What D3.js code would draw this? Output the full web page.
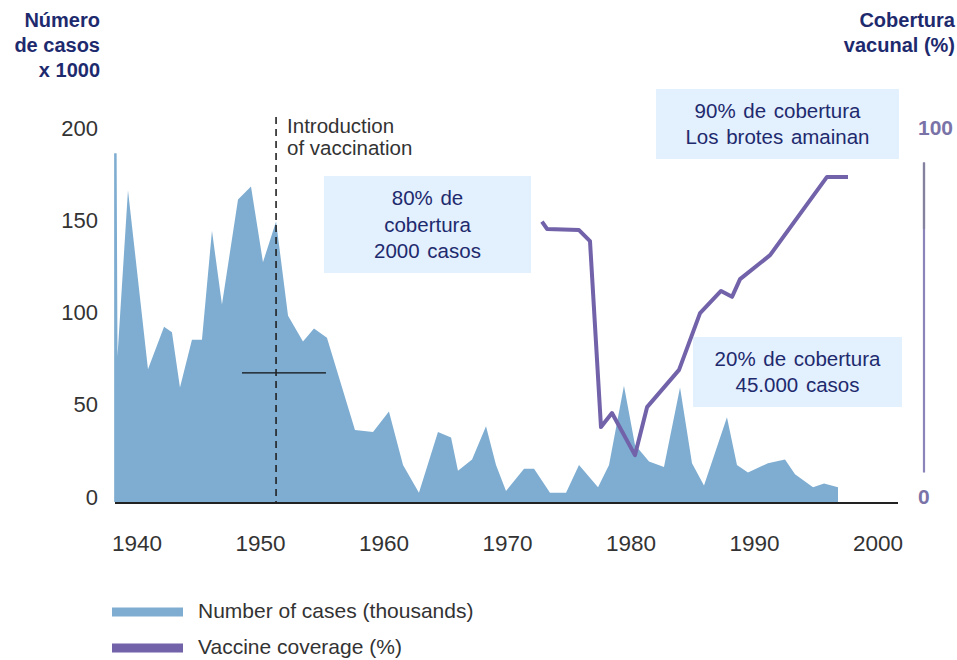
<!DOCTYPE html>
<html>
<head>
<meta charset="utf-8">
<script src="https://cdnjs.cloudflare.com/ajax/libs/d3/7.8.5/d3.min.js"></script>
<style>
  body { margin: 0; background: #fff; }
  svg { display: block; font-family: "Liberation Sans", Arial, sans-serif; }
</style>
</head>
<body>
<svg id="chart" width="957" height="660"></svg>
<script>
// ************************************************************************************************** //
// Data

var caseYears = [1938.15, 1938.35, 1938.42, 1939.27, 1940.89, 1942.19, 1942.83, 1943.48, 1944.45, 1945.26, 1946.07,
  1946.88, 1948.18, 1949.23, 1950.20, 1951.26, 1952.23, 1953.44, 1954.33, 1955.38, 1957.65,
  1959.11, 1960.40, 1961.54, 1962.83, 1964.37, 1965.43, 1965.99, 1967.13, 1968.26, 1969.07,
  1969.88, 1971.34, 1972.15, 1973.44, 1974.74, 1975.79, 1977.33, 1978.22, 1979.43, 1980.32,
  1981.46, 1982.67, 1983.97, 1984.94, 1985.91, 1987.77, 1988.58, 1989.47, 1991.09, 1992.47,
  1993.28, 1994.74, 1995.63, 1996.76];
var caseValues = [189, 189, 79, 169, 72, 95, 92, 62, 88, 88, 147,
  107, 164, 171, 130, 152, 101, 87, 94, 89, 39,
  38, 49, 20, 5, 38, 35, 17, 23, 41, 20,
  6, 18, 18, 5, 5, 20, 8, 20, 63, 31,
  22, 19, 62, 21, 9, 46, 20, 16, 21, 23,
  15, 8, 10, 8];

var coverageYears = [1972.79, 1973.20, 1975.79, 1976.68, 1977.57, 1978.46, 1980.32, 1981.30,
  1983.89, 1985.59, 1987.29, 1988.18, 1988.83, 1991.26, 1995.87, 1997.57];
var coverageValues = [76, 74, 73.7, 70.7, 20.3, 24.1, 12.7, 25.7,
  35.8, 51.2, 57.2, 55.6, 60.4, 66.9, 88.1, 88.1];

var xTicks = [1940, 1950, 1960, 1970, 1980, 1990, 2000];
var yTicks = [0, 50, 100, 150, 200];
var rightTicks = [0, 100];

var vaccinationYear = 1951.26;
var vaccinationLabel = ['Introduction', 'of vaccination'];

var leftTitle = ['Número', 'de casos', 'x 1000'];
var rightTitle = ['Cobertura', 'vacunal (%)'];
var legendLabels = ['Number of cases (thousands)', 'Vaccine coverage (%)'];

var notes = [
  { lines: ['80% de', 'cobertura', '2000 casos'], x: 324, y: 176, w: 207, h: 97 },
  { lines: ['90% de cobertura', 'Los brotes amainan'], x: 656, y: 89, w: 243, h: 70 },
  { lines: ['20% de cobertura', '45.000 casos'], x: 693, y: 337, w: 209, h: 70 }
];

// ************************************************************************************************** //
// Setup

var areaColor = '#7eadd1', lineColor = '#7262aa', navy = '#1e2a6e', grey = '#333', boxColor = '#e3f0fd';

var svg = d3.select('#chart');

var x = d3.scaleLinear().domain([1940, 2000]).range([137, 878]);
var y = d3.scaleLinear().domain([0, 200]).range([502, 133]);
var yRight = d3.scaleLinear().domain([0, 100]).range([502, 133]);

var cases = caseYears.map((d, i) => { return { year: d, value: caseValues[i] } });
var coverage = coverageYears.map((d, i) => { return { year: d, value: coverageValues[i] } });

var area_gen = d3.area().x((d) => { return x(d.year) }).y0(y(0)).y1((d) => { return y(d.value) });
var line_gen = d3.line().x((d) => { return x(d.year) }).y((d) => { return yRight(d.value) });

// titles
leftTitle.forEach((t, i) => {
  svg.append('text').attr('x', 100).attr('y', 27 + i*25).attr('text-anchor', 'end')
    .attr('font-size', 20).attr('font-weight', 'bold').attr('fill', navy).text(t);
});
rightTitle.forEach((t, i) => {
  svg.append('text').attr('x', 955).attr('y', 27 + i*25).attr('text-anchor', 'end')
    .attr('font-size', 20).attr('font-weight', 'bold').attr('fill', navy).text(t);
});

// annotation boxes
notes.forEach((n) => {
  svg.append('rect').attr('x', n.x).attr('y', n.y).attr('width', n.w).attr('height', n.h).attr('fill', boxColor);
  var lh = n.lines.length == 3 ? 26.5 : 26;
  var top = n.y + n.h/2 - (n.lines.length - 1)*lh/2;
  n.lines.forEach((t, i) => {
    svg.append('text').attr('x', n.x + n.w/2).attr('y', top + i*lh).attr('dy', '0.35em')
      .attr('text-anchor', 'middle').attr('font-size', 20.5).attr('fill', navy).attr('word-spacing', 2).text(t);
  });
});

// cases area
svg.append('path').datum(cases).attr('d', area_gen).attr('fill', areaColor);

// baseline
svg.append('line').attr('x1', 115).attr('x2', 898).attr('y1', y(0) + 1).attr('y2', y(0) + 1)
  .attr('stroke', '#222').attr('stroke-width', 2);

// horizontal marker across the vaccination line
svg.append('line').attr('x1', x(1948.5)).attr('x2', x(1955.3)).attr('y1', y(70)).attr('y2', y(70))
  .attr('stroke', '#111').attr('stroke-width', 1.2);

// vaccination dashed line
svg.append('line').attr('x1', x(vaccinationYear)).attr('x2', x(vaccinationYear)).attr('y1', 117).attr('y2', y(0))
  .attr('stroke', '#222').attr('stroke-width', 1.6).attr('stroke-dasharray', '7,5');
vaccinationLabel.forEach((t, i) => {
  svg.append('text').attr('x', x(vaccinationYear) + 11).attr('y', 126 + i*22).attr('dy', '0.35em')
    .attr('font-size', 20.5).attr('fill', grey).text(t);
});

// coverage line
svg.append('path').datum(coverage).attr('d', line_gen).attr('fill', 'none')
  .attr('stroke', lineColor).attr('stroke-width', 4).attr('stroke-linejoin', 'round');

// left axis labels
svg.selectAll('.ylab').data(yTicks).enter().append('text')
  .attr('x', 98).attr('y', (d) => { return y(d) - 5 }).attr('dy', '0.35em')
  .attr('text-anchor', 'end').attr('font-size', 22).attr('fill', grey).text((d) => { return d });

// bottom axis labels
svg.selectAll('.xlab').data(xTicks).enter().append('text')
  .attr('x', (d) => { return x(d) }).attr('y', 543).attr('dy', '0.35em')
  .attr('text-anchor', 'middle').attr('font-size', 22.5).attr('fill', grey).text((d) => { return d });

// right axis
svg.append('line').attr('x1', 924).attr('x2', 924).attr('y1', yRight(92)).attr('y2', yRight(8))
  .attr('stroke', '#8b84bb').attr('stroke-width', 2.2);
svg.append('line').attr('x1', 924).attr('x2', 924).attr('y1', yRight(92)).attr('y2', yRight(74))
  .attr('stroke', '#84819f').attr('stroke-width', 2.2);
svg.selectAll('.rlab').data(rightTicks).enter().append('text')
  .attr('x', 918).attr('y', (d) => { return yRight(d) - 5 }).attr('dy', '0.35em')
  .attr('font-size', 21).attr('font-weight', 'bold').attr('fill', '#7a73a8').text((d) => { return d });

// legend
var legendColors = [areaColor, lineColor];
legendLabels.forEach((t, i) => {
  var ly = 612 + i*36;
  svg.append('rect').attr('x', 112).attr('y', ly - 4.5).attr('width', 71).attr('height', 9).attr('fill', legendColors[i]);
  svg.append('text').attr('x', 198).attr('y', ly - 1).attr('dy', '0.35em')
    .attr('font-size', 21).attr('fill', grey).text(t);
});
</script>
</body>
</html>
